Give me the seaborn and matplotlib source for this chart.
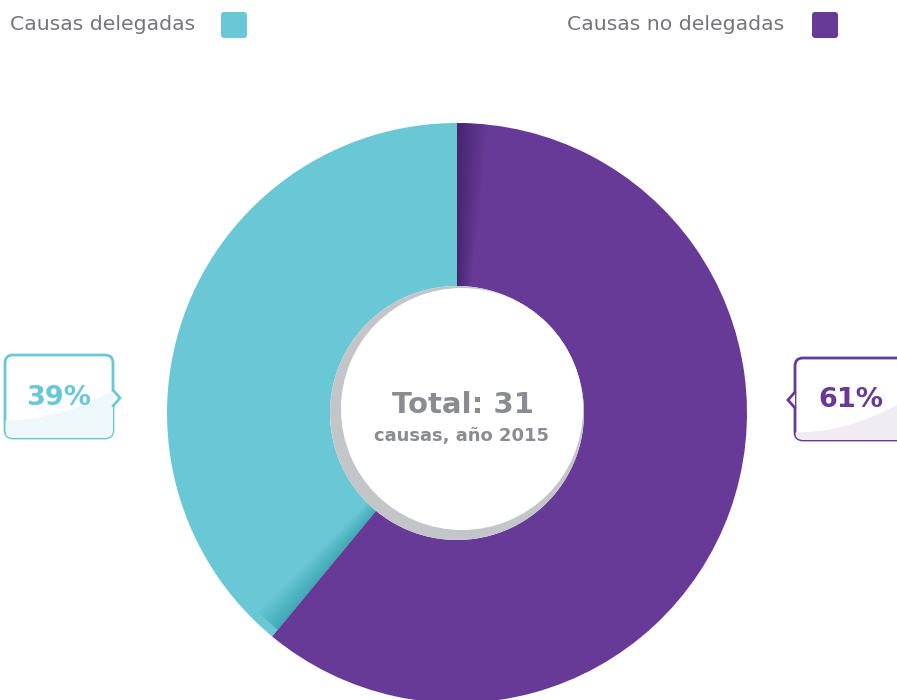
import numpy as np
import seaborn as sns
import matplotlib.pyplot as plt
from matplotlib.patches import FancyBboxPatch, Circle, Wedge, Polygon

# data (shares in %)
categories = ["Causas delegadas", "Causas no delegadas"]
values = [39, 61]
pct_labels = ["39%", "61%"]
total_label = "Total: 31"
sub_label = "causas, año 2015"

sns.set_theme(style="white")
plt.rcParams['font.family'] = ['DejaVu Sans']

teal, purple = "#6ac8d6", "#663a96"
colors = [teal, purple]
grey_txt = "#8a8c91"
W, H = 897, 700

fig = plt.figure(figsize=(W / 100, H / 100), dpi=100)
ax = fig.add_axes([0, 0, 1, 1])

cx, cy, R, r_hole = 457, H - 413, 290, 127

wedges, _ = ax.pie(values, colors=colors, startangle=90, counterclock=True,
                   radius=R, center=(cx, cy), frame=True,
                   wedgeprops=dict(width=R - r_hole, linewidth=0))
ax.set_xlim(0, W)
ax.set_ylim(0, H)
ax.set_aspect("equal")
ax.axis("off")

# shading at the wedge joints
split = 90 + 360 * values[0] / sum(values)
for i in range(12):
    a = 0.55 * (1 - i / 12)
    ax.add_patch(Wedge((cx, cy), R, 90 - (i + 1) * 0.5, 90 - i * 0.5,
                       width=R - r_hole, color="#2e1450", alpha=a, lw=0))
    ax.add_patch(Wedge((cx, cy), R * 0.97, split - (i + 1) * 0.45, split - i * 0.45,
                       width=R * 0.97 - r_hole, color="#1f8f9a", alpha=a, lw=0))

# centre disc with shadow
ax.add_patch(Circle((cx, cy), r_hole, color="#c3c5c9", lw=0, zorder=3))
ax.add_patch(Circle((cx + 5, cy + 4), r_hole - 6, color="white", lw=0, zorder=4))
ax.text(cx + 6, H - 405, total_label, ha="center", va="center", fontsize=21,
        fontweight="bold", color=grey_txt, zorder=5)
ax.text(cx + 4, H - 436, sub_label, ha="center", va="center", fontsize=13,
        fontweight="bold", color=grey_txt, zorder=5)

# legend
ax.text(10, H - 24, categories[0], ha="left", va="center", fontsize=14.7, color="#75767b")
ax.text(567, H - 24, categories[1], ha="left", va="center", fontsize=14.7, color="#75767b")
for x0, c in [(221, teal), (812, purple)]:
    ax.add_patch(FancyBboxPatch((x0 + 3, H - 38 + 3), 20, 20,
                                boxstyle="round,pad=3", fc=c, ec="none"))


def callout(x0, x1, y0, y1, tip_side, col, light, txt, tx, ty, curve):
    box = FancyBboxPatch((x0 + 8, H - y1 + 8), x1 - x0 - 16, y1 - y0 - 16,
                         boxstyle="round,pad=8", fc="white", ec=col, lw=2, zorder=5)
    ax.add_patch(box)
    xs = np.linspace(x0, x1, 50)
    ys = H - curve(xs)
    fill = ax.fill_between(xs, H - y1, ys, color=light, lw=0, zorder=6)
    fill.set_clip_path(box)
    ty_mid = H - ty
    if tip_side == "right":
        bx, tip = x1, x1 + 7
    else:
        bx, tip = x0, x0 - 7
    ax.add_patch(Polygon([(bx, ty_mid + 8), (tip, ty_mid), (bx, ty_mid - 8)],
                         closed=True, fc="white", ec="none", zorder=7))
    ax.plot([bx, tip, bx], [ty_mid + 8, ty_mid, ty_mid - 8], color=col, lw=2,
            solid_joinstyle="miter", zorder=8)
    ax.text(tx, ty_mid, txt, ha="center", va="center", fontsize=19.5,
            fontweight="bold", color=col, zorder=9)


callout(5, 113, 355, 438, "right", teal, "#eef7f9", pct_labels[0], 59, 398,
        lambda x: 420 - 30 * ((x - 5) / 108) ** 2)
callout(795, 912, 358, 440, "left", purple, "#f1ecf4", pct_labels[1], 851, 400,
        lambda x: 432 - 28 * ((x - 795) / 102) ** 2)

fig.savefig("out.png", dpi=100)
